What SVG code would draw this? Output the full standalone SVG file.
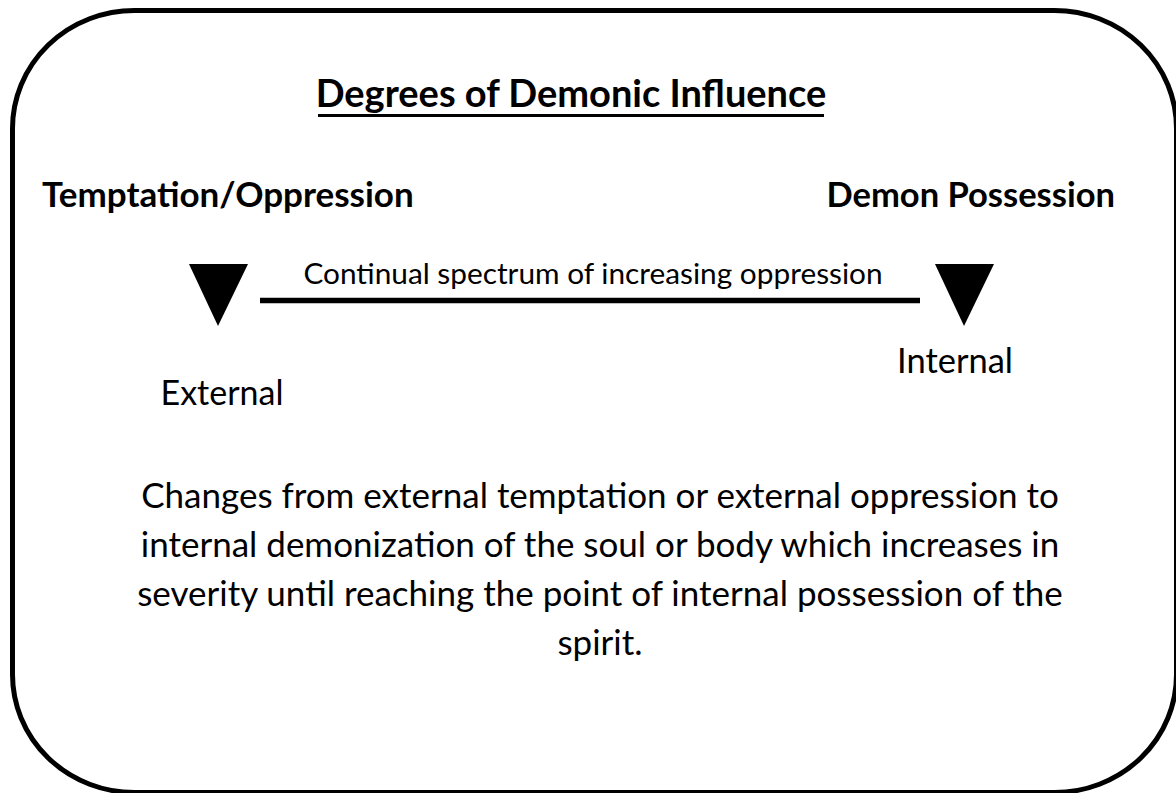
<svg xmlns="http://www.w3.org/2000/svg" width="1176" height="793" viewBox="0 0 1176 793">
<style>
text{font-family:Lato,"Open Sans","Liberation Sans",sans-serif;fill:#000}
.b{font-weight:bold}
</style>
<rect width="1176" height="793" fill="#fff"/>
<g id="frame"><rect x="12.5" y="10.5" width="1164" height="782" rx="122" ry="118" fill="none" stroke="#000" stroke-width="5"/></g>
<g id="title">
<text x="571" y="107" class="b" font-size="38" text-anchor="middle">Degrees of Demonic Influence</text>
<line x1="318" y1="115.5" x2="824" y2="115.5" stroke="#000" stroke-width="3"/>
</g>
<g id="left"><text x="42" y="207" class="b" font-size="35">Temptation/Oppression</text></g>
<g id="right"><text x="1115" y="207" class="b" font-size="34.5" text-anchor="end">Demon Possession</text></g>
<g id="tri-left"><polygon points="189,264 248,264 218,326" fill="#000"/></g>
<g id="tri-right"><polygon points="935,264 994,264 964,326" fill="#000"/></g>
<g id="connectors"><line x1="260" y1="300.5" x2="920" y2="300.5" stroke="#000" stroke-width="5.5"/></g>
<g id="spectrum"><text x="593" y="284" font-size="29.8" text-anchor="middle">Continual spectrum of increasing oppression</text></g>
<g id="external"><text x="222" y="405" font-size="34" text-anchor="middle">External</text></g>
<g id="internal"><text x="955" y="373" font-size="34.5" text-anchor="middle">Internal</text></g>
<g id="desc" font-size="35">
<text x="600" y="508" text-anchor="middle">Changes from external temptation or external oppression to</text>
<text x="600" y="557" text-anchor="middle">internal demonization of the soul or body which increases in</text>
<text x="600" y="606" text-anchor="middle">severity until reaching the point of internal possession of the</text>
<text x="600" y="655" text-anchor="middle">spirit.</text>
</g>
</svg>
